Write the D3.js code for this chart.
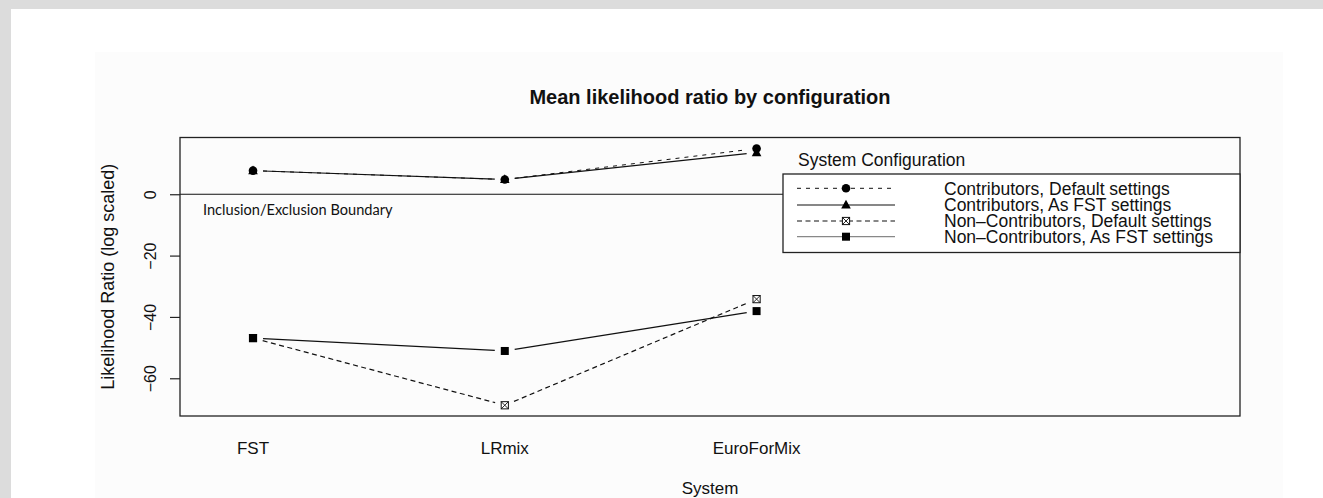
<!DOCTYPE html>
<html>
<head>
<meta charset="utf-8">
<script src="https://cdn.jsdelivr.net/npm/d3@7"></script>
<style>
  html, body { margin: 0; padding: 0; background: #dcdcdc; }
  svg { display: block; }
  text { font-family: "Liberation Sans", Arial, Helvetica, sans-serif; fill: #111; }
</style>
</head>
<body>
<script>
// values
var systems = ['FST', 'LRmix', 'EuroForMix'];
var contribDefault = [7.7, 4.8, 14.9];
var contribFST = [7.7, 4.8, 13.6];
var nonContribDefault = [-46.9, -68.8, -34.2];
var nonContribFST = [-46.9, -51.1, -38.1];
var yTicks = [0, -20, -40, -60];
var legendLabels = [
    'Contributors, Default settings',
    'Contributors, As FST settings',
    'Non\u2013Contributors, Default settings',
    'Non\u2013Contributors, As FST settings'
];

var width = 1323,
    height = 498,
    box = { left: 180, right: 1240, top: 137.5, bottom: 416 };

var series = [
    { values: contribDefault, dash: '4,5', width: 1, shape: 'circle', legendColor: '#111' },
    { values: contribFST, dash: null, width: 1.2, shape: 'triangle', legendColor: '#111' },
    { values: nonContribDefault, dash: '5,3.5', width: 1.2, shape: 'xsquare', legendColor: '#111' },
    { values: nonContribFST, dash: null, width: 1.2, shape: 'square', legendColor: '#888' }
];

var svg = d3.select('body')
    .append('svg')
    .attr('width', width)
    .attr('height', height)

// page and image backgrounds
svg.append('rect')
    .attr('x', 11).attr('y', 9)
    .attr('width', width - 11).attr('height', height - 9)
    .attr('fill', '#ffffff')
svg.append('rect')
    .attr('x', 95).attr('y', 52)
    .attr('width', 1283 - 95).attr('height', height - 52)
    .attr('fill', '#fcfcfc')

var xScale = d3.scaleLinear()
    .domain([0.71, 4.92])
    .range([box.left, box.right])

var yScale = d3.scaleLinear()
    .domain([-72.3, 18.5])
    .range([box.bottom, box.top])

// title
svg.append('text')
    .attr('x', (box.left + box.right) / 2)
    .attr('y', 104)
    .attr('text-anchor', 'middle')
    .style('font-size', '20px')
    .style('font-weight', 'bold')
    .text('Mean likelihood ratio by configuration')

// y axis
var yAxis = d3.axisLeft(yScale)
    .tickValues(yTicks)
    .tickSize(10)
    .tickPadding(0)
    .tickFormat(d => d3.format('d')(d).replace('-', '\u2212'))

var yg = svg.append('g')
    .attr('transform', `translate(${box.left}, 0)`)
    .call(yAxis)
yg.select('.domain').remove()
yg.selectAll('.tick line').attr('stroke', '#222').attr('stroke-width', 1.2)
yg.selectAll('.tick text')
    .attr('x', 0).attr('dy', null)
    .attr('transform', 'translate(-24, 0) rotate(-90)')
    .attr('text-anchor', 'middle')
    .style('font-size', '16px')
    .style('font-family', '"Liberation Sans", Arial, sans-serif')
    .attr('fill', '#111')

svg.append('text')
    .attr('transform', `translate(114, ${(box.top + box.bottom) / 2}) rotate(-90)`)
    .attr('text-anchor', 'middle')
    .style('font-size', '18px')
    .text('Likelihood Ratio (log scaled)')

// x labels (no ticks)
svg.selectAll('.xlab')
    .data(systems)
    .enter().append('text')
    .attr('class', 'xlab')
    .attr('x', (d, i) => xScale(i + 1))
    .attr('y', 454)
    .attr('text-anchor', 'middle')
    .style('font-size', '17px')
    .text(d => d)

svg.append('text')
    .attr('x', (box.left + box.right) / 2)
    .attr('y', 494)
    .attr('text-anchor', 'middle')
    .style('font-size', '17px')
    .text('System')

// zero boundary
svg.append('line')
    .attr('x1', box.left).attr('x2', box.right)
    .attr('y1', yScale(0)).attr('y2', yScale(0))
    .attr('stroke', '#111').attr('stroke-width', 1.1)

svg.append('text')
    .attr('x', 203)
    .attr('y', 215)
    .style('font-family', 'Lato, "Open Sans", sans-serif')
    .style('font-size', '14.6px')
    .text('Inclusion/Exclusion Boundary')

// lines with gaps around the points (type = "b")
var gap = 10
series.forEach(function (s) {
    var pts = s.values.map((v, i) => [xScale(i + 1), yScale(v)])
    for (var i = 0; i < pts.length - 1; i++) {
        var a = pts[i], b = pts[i + 1]
        var dx = b[0] - a[0], dy = b[1] - a[1]
        var len = Math.sqrt(dx * dx + dy * dy)
        var ux = dx / len, uy = dy / len
        svg.append('line')
            .attr('x1', a[0] + ux * gap).attr('y1', a[1] + uy * gap)
            .attr('x2', b[0] - ux * gap).attr('y2', b[1] - uy * gap)
            .attr('stroke', '#111')
            .attr('stroke-width', s.width)
            .attr('stroke-dasharray', s.dash)
    }
})

function drawMarker(g, shape, x, y) {
    if (shape === 'circle') {
        g.append('circle').attr('cx', x).attr('cy', y).attr('r', 4.3).attr('fill', '#000')
    } else if (shape === 'triangle') {
        g.append('path')
            .attr('d', `M${x},${y - 5.2} L${x + 4.8},${y + 3.6} L${x - 4.8},${y + 3.6} Z`)
            .attr('fill', '#000')
    } else if (shape === 'square') {
        g.append('rect').attr('x', x - 4).attr('y', y - 4).attr('width', 8).attr('height', 8).attr('fill', '#000')
    } else {
        g.append('rect').attr('x', x - 3.6).attr('y', y - 3.6).attr('width', 7.2).attr('height', 7.2)
            .attr('fill', '#fff').attr('stroke', '#111').attr('stroke-width', 1)
        g.append('path')
            .attr('d', `M${x - 3.6},${y - 3.6} L${x + 3.6},${y + 3.6} M${x + 3.6},${y - 3.6} L${x - 3.6},${y + 3.6}`)
            .attr('stroke', '#111').attr('stroke-width', 0.9)
    }
}

var markers = svg.append('g')
series.forEach(function (s) {
    s.values.forEach((v, i) => drawMarker(markers, s.shape, xScale(i + 1), yScale(v)))
})

// plot box
svg.append('rect')
    .attr('x', box.left).attr('y', box.top)
    .attr('width', box.right - box.left).attr('height', box.bottom - box.top)
    .attr('fill', 'none')
    .attr('stroke', '#222').attr('stroke-width', 1.3)

// legend
var leg = { left: 783, top: 174, bottom: 252.5 }
svg.append('text')
    .attr('x', 798).attr('y', 165.5)
    .style('font-size', '17.5px')
    .text('System Configuration')

svg.append('rect')
    .attr('x', leg.left).attr('y', leg.top)
    .attr('width', box.right - leg.left).attr('height', leg.bottom - leg.top)
    .attr('fill', '#fff')
    .attr('stroke', '#222').attr('stroke-width', 1.3)

var rowY = [188.3, 205, 221, 236.7]
series.forEach(function (s, i) {
    svg.append('line')
        .attr('x1', 797).attr('x2', 895)
        .attr('y1', rowY[i]).attr('y2', rowY[i])
        .attr('stroke', s.legendColor)
        .attr('stroke-width', s.width)
        .attr('stroke-dasharray', s.dash)
    drawMarker(svg, s.shape, 846, rowY[i])
    svg.append('text')
        .attr('x', 944).attr('y', rowY[i] + 6.3)
        .style('font-size', '17.5px')
        .text(legendLabels[i])
})
</script>
</body>
</html>
